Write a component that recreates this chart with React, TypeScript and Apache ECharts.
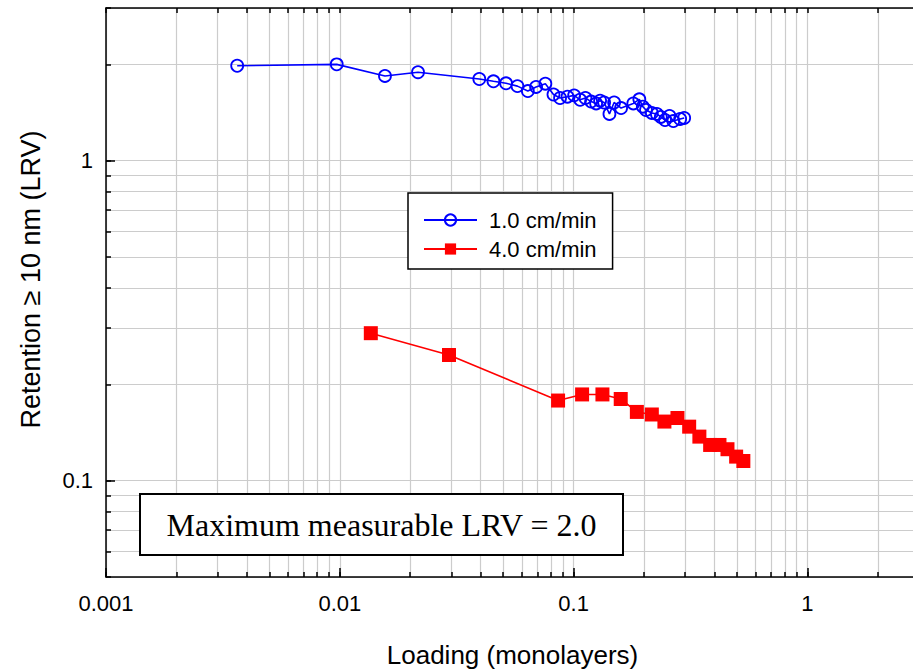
import React, { useEffect, useRef } from "react";
import * as echarts from "echarts";

const seriesNames = ["1.0 cm/min", "4.0 cm/min"];

const loading1 = [0.00364, 0.0097, 0.0156, 0.0216, 0.0395, 0.0454, 0.0514, 0.0575, 0.0637, 0.0691, 0.0757, 0.082, 0.0875, 0.0941, 0.1005, 0.1066, 0.1123, 0.1188, 0.1248, 0.1298, 0.135, 0.1423, 0.149, 0.1596, 0.18, 0.191, 0.1977, 0.204, 0.216, 0.227, 0.236, 0.246, 0.257, 0.267, 0.2855, 0.297];
const lrv1 = [1.98, 2.0, 1.84, 1.89, 1.8, 1.77, 1.745, 1.71, 1.65, 1.7, 1.74, 1.61, 1.57, 1.585, 1.6, 1.55, 1.57, 1.53, 1.51, 1.54, 1.52, 1.4, 1.52, 1.46, 1.51, 1.555, 1.475, 1.44, 1.41, 1.4, 1.37, 1.34, 1.38, 1.33, 1.35, 1.36];

const loading2 = [0.01357, 0.0293, 0.0858, 0.1087, 0.1328, 0.159, 0.1864, 0.216, 0.2445, 0.278, 0.312, 0.345, 0.3836, 0.4205, 0.455, 0.4955, 0.532];
const lrv2 = [0.289, 0.247, 0.178, 0.186, 0.186, 0.18, 0.164, 0.161, 0.153, 0.157, 0.1475, 0.1373, 0.1293, 0.1293, 0.1254, 0.1189, 0.1152];

const xLabelValues = [0.001, 0.01, 0.1, 1];
const yLabelValues = [0.1, 1];
const xMinorTicks = [
  0.001, 0.002, 0.003, 0.004, 0.005, 0.006, 0.007, 0.008, 0.009,
  0.01, 0.02, 0.03, 0.04, 0.05, 0.06, 0.07, 0.08, 0.09,
  0.1, 0.2, 0.3, 0.4, 0.5, 0.6, 0.7, 0.8, 0.9,
  1, 2, 3,
];
const yMinorTicks = [0.05, 0.06, 0.07, 0.08, 0.09, 0.1, 0.2, 0.3, 0.4, 0.5, 0.6, 0.7, 0.8, 0.9, 1, 2, 3];

const annotationText = "Maximum measurable LRV = 2.0";

const SANS = '"Liberation Sans", Arial, sans-serif';
const SERIF = '"Liberation Serif", "Times New Roman", serif';
const fmt = (v: number) => String(+Number(v).toPrecision(3));

export default function App() {
  const ref = useRef<HTMLDivElement>(null);
  useEffect(() => {
    if (!ref.current) return;
    const chart = echarts.init(ref.current, null, { renderer: "svg" });
    const axisLineStyle = { color: "#000", width: 1.5 };
    const gridLine = { show: true, lineStyle: { color: "#cccccc", width: 1.2, type: "solid" as const } };
    const common = { type: "log" as const, logBase: 10 };
    chart.setOption({
      animation: false,
      backgroundColor: "#fff",
      grid: { left: 106, top: 8, right: -6, bottom: 92, outerBoundsMode: "none", containLabel: false },
      xAxis: [
        {
          ...common, min: 0.001, max: 3, position: "bottom",
          axisLine: { show: true, lineStyle: axisLineStyle },
          axisTick: { show: true, inside: true, length: 5, customValues: xMinorTicks, lineStyle: axisLineStyle },
          axisLabel: { show: true, customValues: xLabelValues, formatter: fmt, fontSize: 22, color: "#000", fontFamily: SANS, margin: 15 },
          splitLine: gridLine,
          name: "Loading (monolayers)", nameLocation: "middle", nameGap: 65,
          nameTextStyle: { fontSize: 26, color: "#000", fontFamily: SANS },
        },
        {
          ...common, min: 0.001, max: 3, position: "bottom",
          axisLine: { show: false },
          axisTick: { show: true, inside: true, length: 9, customValues: xLabelValues, lineStyle: axisLineStyle },
          axisLabel: { show: false },
          splitLine: { show: false },
        },
        {
          ...common, min: 0.001, max: 3, position: "top",
          axisLine: { show: true, lineStyle: axisLineStyle },
          axisTick: { show: true, inside: true, length: 5, customValues: xMinorTicks, lineStyle: axisLineStyle },
          axisLabel: { show: false },
          splitLine: { show: false },
        },
      ],
      yAxis: [
        {
          ...common, min: 0.05, max: 3, position: "left",
          axisLine: { show: true, lineStyle: axisLineStyle },
          axisTick: { show: true, inside: true, length: 5, customValues: yMinorTicks, lineStyle: axisLineStyle },
          axisLabel: { show: true, customValues: yLabelValues, formatter: fmt, fontSize: 22, color: "#000", fontFamily: SANS, margin: 13 },
          splitLine: gridLine,
          name: "Retention \u2265 10 nm (LRV)", nameLocation: "middle", nameGap: 62,
          nameTextStyle: { fontSize: 27, color: "#000", fontFamily: SANS, padding: [0, 0, 0, 26] },
        },
        {
          ...common, min: 0.05, max: 3, position: "left",
          axisLine: { show: false },
          axisTick: { show: true, inside: true, length: 9, customValues: yLabelValues, lineStyle: axisLineStyle },
          axisLabel: { show: false },
          splitLine: { show: false },
        },
      ],
      legend: {
        orient: "vertical",
        left: 408,
        top: 193,
        backgroundColor: "#fff",
        borderColor: "#000",
        borderWidth: 1.5,
        borderRadius: 0,
        padding: [16, 16, 9, 15],
        itemGap: 7,
        itemWidth: 53,
        itemHeight: 14,
        data: seriesNames,
        textStyle: { fontSize: 22, color: "#000", fontFamily: SANS, padding: [0, 0, 0, 7] },
      },
      series: [
        {
          name: seriesNames[0],
          type: "line",
          xAxisIndex: 0,
          yAxisIndex: 0,
          data: loading1.map((x, i) => [x, lrv1[i]]),
          symbol: "circle",
          symbolSize: 12,
          lineStyle: { color: "#0000ff", width: 1.6 },
          itemStyle: { color: "rgba(0,0,0,0)", borderColor: "#0000ff", borderWidth: 1.8 },
          z: 3,
        },
        {
          name: seriesNames[1],
          type: "line",
          xAxisIndex: 0,
          yAxisIndex: 0,
          data: loading2.map((x, i) => [x, lrv2[i]]),
          symbol: "rect",
          symbolSize: 14,
          lineStyle: { color: "#ff0000", width: 1.6 },
          itemStyle: { color: "#ff0000" },
          z: 3,
        },
      ],
      graphic: [
        {
          type: "rect", z: 100,
          shape: { x: 140, y: 494, width: 483, height: 61 },
          style: { fill: "#ffffff", stroke: "#000", lineWidth: 2 },
        },
        {
          type: "text", z: 101,
          x: 381.5, y: 525,
          style: {
            text: annotationText, fontSize: 32, fontFamily: SERIF, fill: "#000",
            align: "center", verticalAlign: "middle",
          },
        },
      ],
    });
    return () => chart.dispose();
  }, []);
  return <div ref={ref} style={{ position: "absolute", left: 0, top: 0, width: 913, height: 669 }} />;
}
